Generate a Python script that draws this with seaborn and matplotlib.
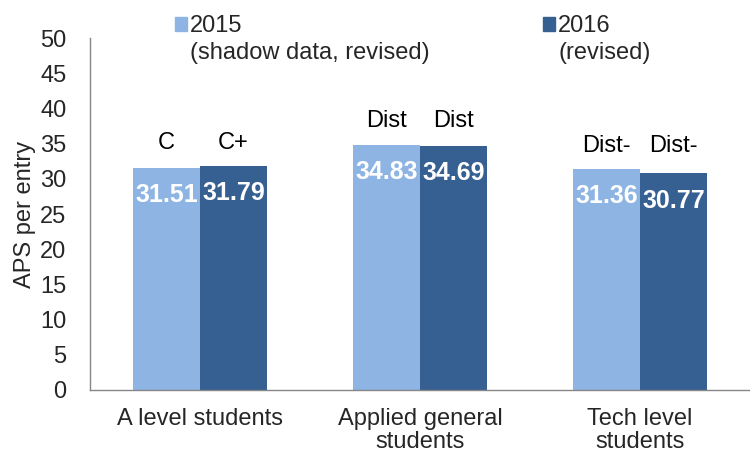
import numpy as np
import pandas as pd
import matplotlib
matplotlib.use('Agg')
import matplotlib.pyplot as plt
import seaborn as sns

# -----------------------------
# Data
# -----------------------------
categories = ['A level students', 'Applied general\nstudents', 'Tech level\nstudents']
years = ['2015', '2016']
legend_sub = ['(shadow data, revised)', '(revised)']
aps_2015 = [31.51, 34.83, 31.36]
aps_2016 = [31.79, 34.69, 30.77]
grades_2015 = ['C', 'Dist', 'Dist-']
grades_2016 = ['C+', 'Dist', 'Dist-']

df = pd.DataFrame({
    'category': categories * 2,
    'year': [years[0]] * 3 + [years[1]] * 3,
    'aps': aps_2015 + aps_2016,
    'grade': grades_2015 + grades_2016,
})

# -----------------------------
# Plot
# -----------------------------
sns.set_style('white')
plt.rcParams['font.family'] = ['Liberation Sans', 'DejaVu Sans']
axis_col = '#868686'
colors = ['#8DB4E2', '#366092']
fs = 17

fig = plt.figure(figsize=(7.5, 4.54), dpi=100)
ax = fig.add_axes([0.12, 0.141, 0.88, 0.775])

sns.barplot(data=df, x='category', y='aps', hue='year', palette=colors,
            width=0.61, gap=0, saturation=1, linewidth=0, ax=ax, legend=False)

# grade labels sit at the same height over each pair of bars
group_max = df.groupby('category', sort=False)['aps'].max()

for i, cont in enumerate(ax.containers):
    sub = df[df['year'] == years[i]]
    for bar, val, grade, cat in zip(cont, sub['aps'], sub['grade'], sub['category']):
        cx = bar.get_x() + bar.get_width() / 2
        ax.annotate(f'{val:.2f}', (cx, val), xytext=(0, -19.5), textcoords='offset points',
                    ha='center', va='center', color='white', fontsize=18, fontweight='bold')
        ax.annotate(grade, (cx, group_max[cat]), xytext=(0, 17), textcoords='offset points',
                    ha='center', va='center', color='black', fontsize=fs)

ax.set_ylim(0, 50)
ax.set_xlim(-0.5, 2.5)
ax.set_yticks(np.arange(0, 51, 5))
ax.set_ylabel('APS per entry', fontsize=fs, labelpad=3)
ax.set_xlabel('')

ax.set_xticks([0, 1, 2])
ax.set_xticks([-0.5, 0.5, 1.5], minor=True)
ax.tick_params(axis='x', which='major', length=0, pad=13, labelsize=fs)
ax.tick_params(axis='x', which='minor', length=6, width=1, color=axis_col, direction='out')
ax.tick_params(axis='y', length=6, width=1, color=axis_col, direction='out', labelsize=fs, pad=11)
for lab in ax.get_xticklabels():
    lab.set_linespacing(1.05)

for s in ['top', 'right']:
    ax.spines[s].set_visible(False)
for s in ['left', 'bottom']:
    ax.spines[s].set_color(axis_col)
    ax.spines[s].set_linewidth(1)

# legend: one entry per column, square marker beside the first line
legend_x = [175 / 750, 543 / 750]
for col, yr, sub, xpos in zip(colors, years, legend_sub, legend_x):
    h = plt.Rectangle((0, 0), 1, 1, color=col)
    leg = fig.legend([h], [yr], loc='upper left', bbox_to_anchor=(xpos, 0.966),
                     frameon=False, fontsize=fs, handlelength=0.5, handleheight=0.5,
                     handletextpad=0.15, borderpad=0, borderaxespad=0)
    fig.canvas.draw()
    txt = leg.get_texts()[0]
    bb = txt.get_window_extent()
    x0, y0 = fig.transFigure.inverted().transform((bb.x0, bb.y0))
    fig.text(x0, y0 - 0.010, sub, ha='left', va='top', fontsize=fs)

fig.savefig('out.png', dpi=100)
